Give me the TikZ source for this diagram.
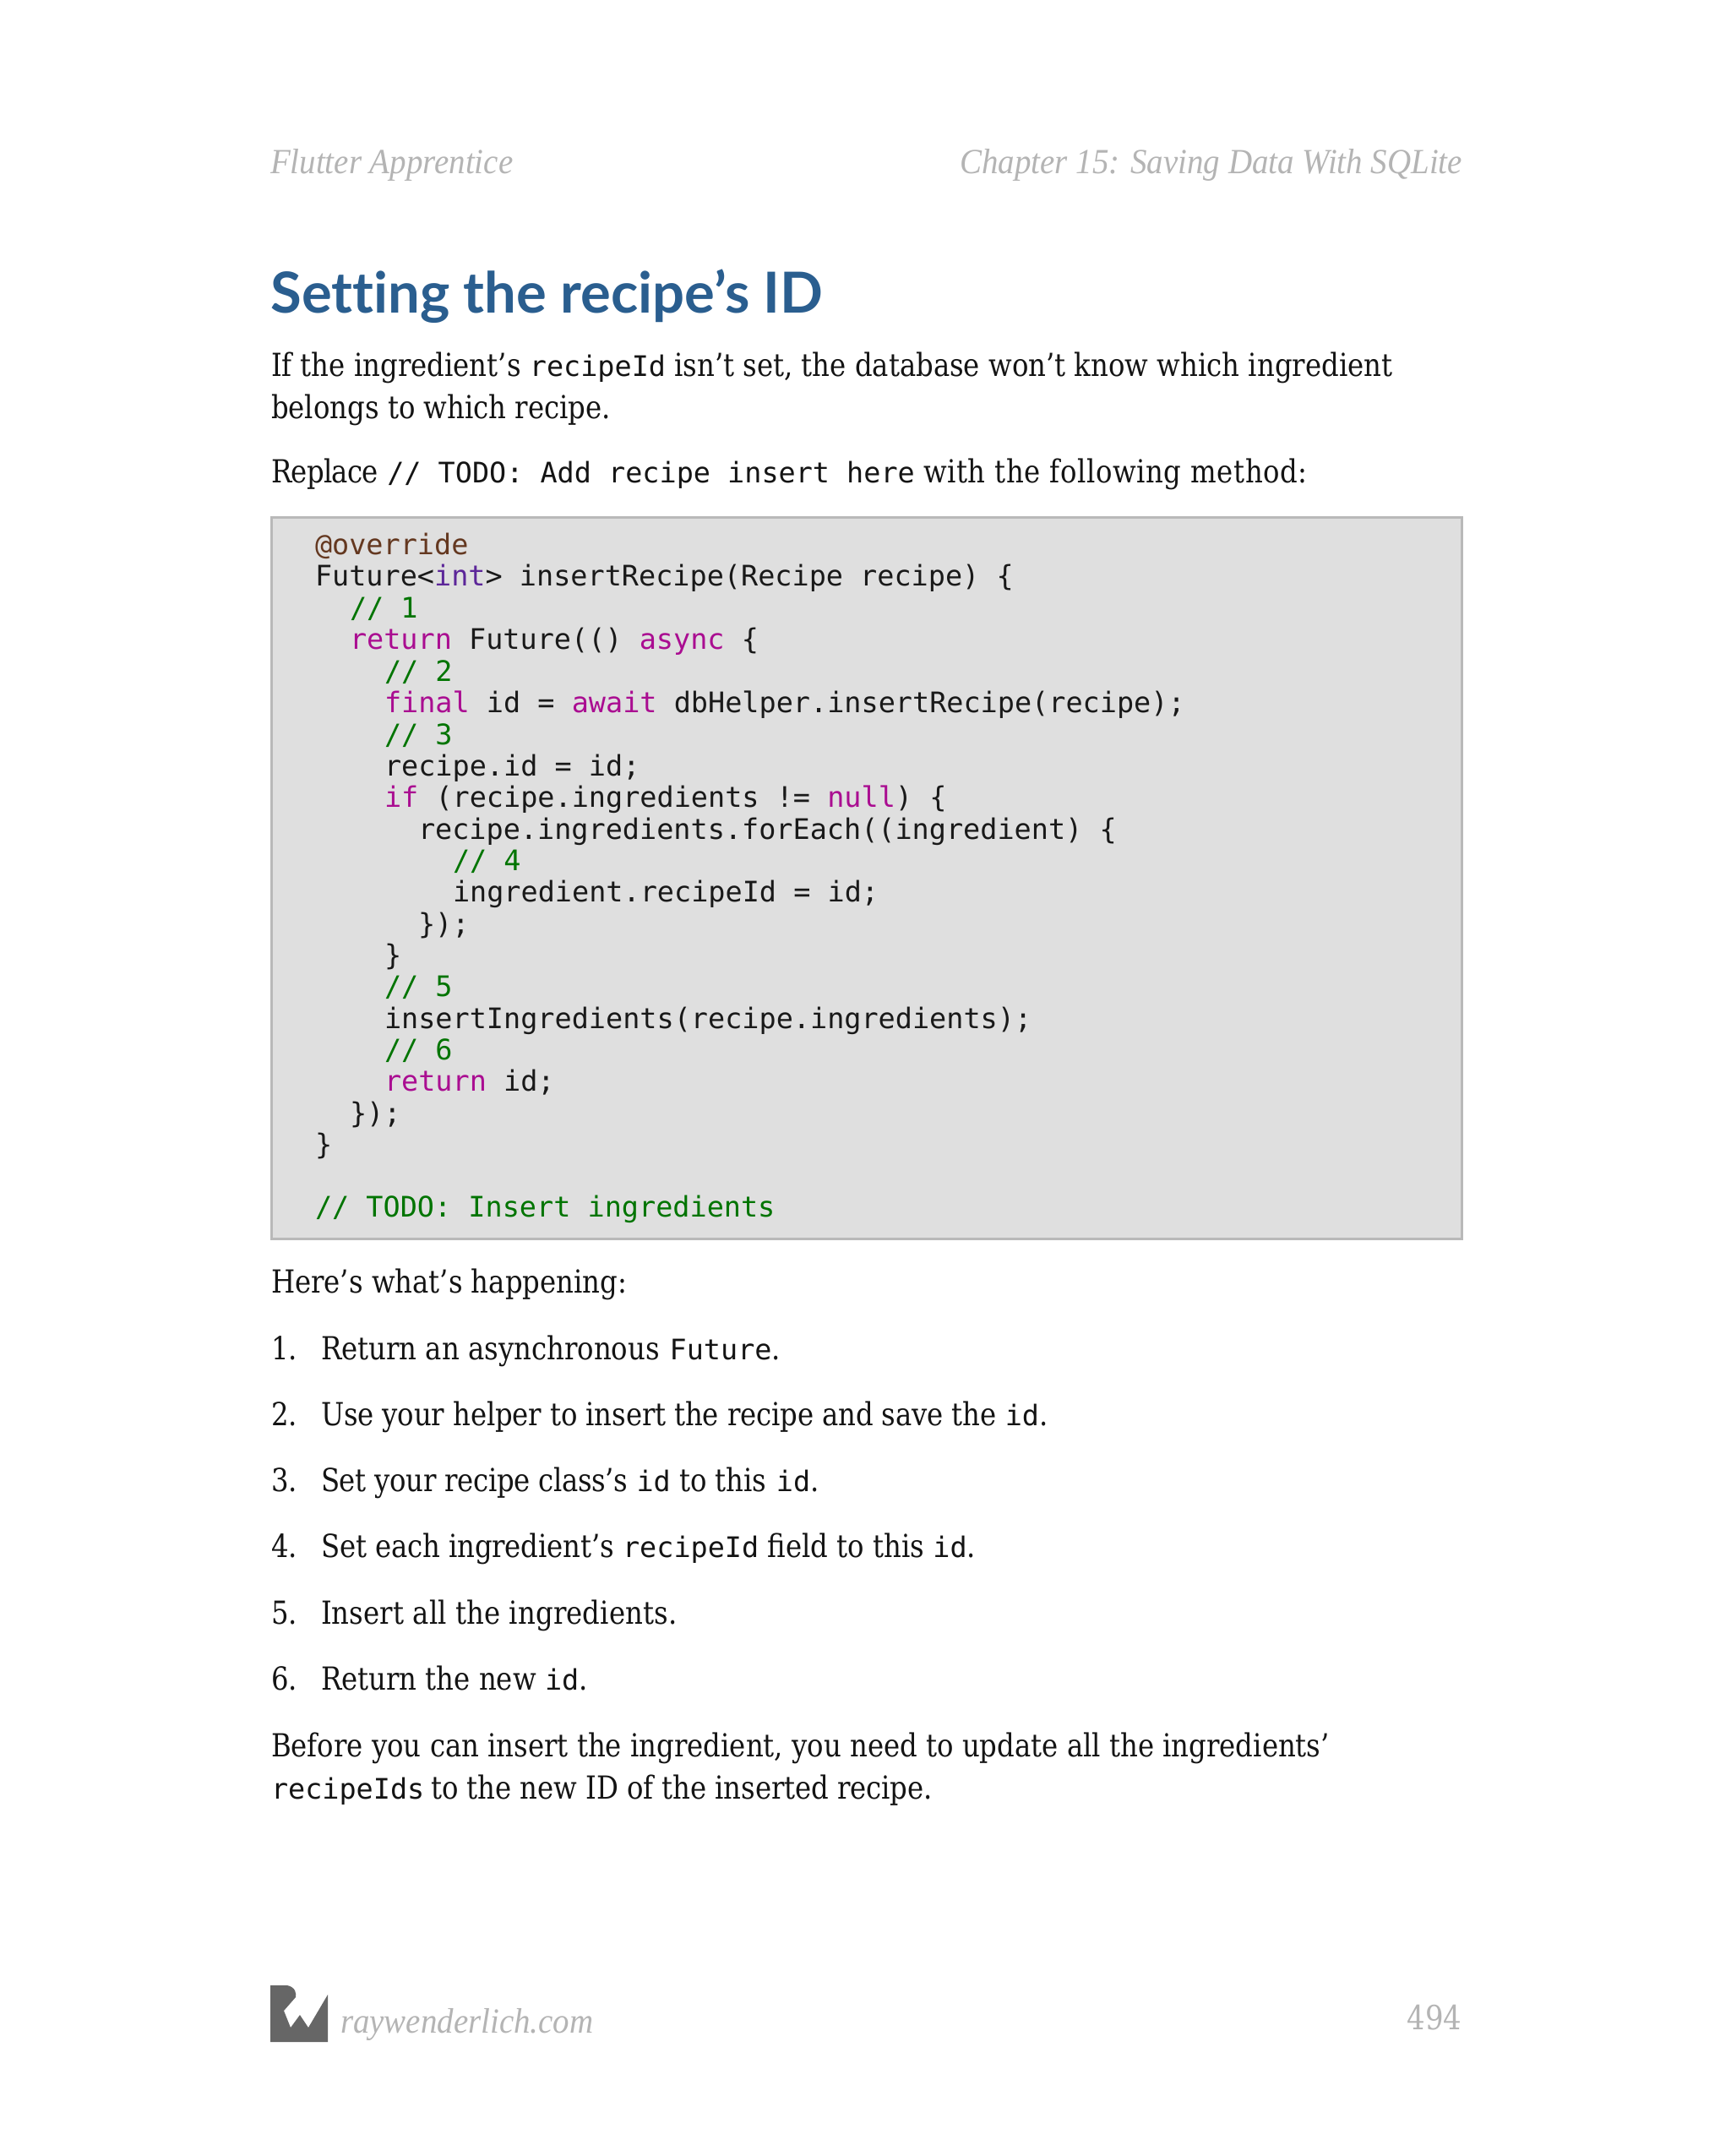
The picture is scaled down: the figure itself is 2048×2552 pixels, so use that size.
\documentclass[tikz,border=0pt]{standalone}
\usepackage{fontspec}
\setmainfont{DejaVu Serif}[FakeStretch=0.86]
\newfontfamily\titlefont{Lato}[Ligatures=NoCommon]
\newfontfamily\codefont{DejaVu Sans Mono}
\newfontfamily\headfont{Liberation Serif}[FakeStretch=0.93]
\definecolor{titleblue}{HTML}{2A5E8F}
\definecolor{headgray}{HTML}{B4B4B4}
\definecolor{boxfill}{HTML}{DFDFDF}
\definecolor{boxline}{HTML}{B9B9B9}
\definecolor{cgreen}{HTML}{007400}
\definecolor{ckey}{HTML}{AA0D91}
\definecolor{cint}{HTML}{5C2699}
\definecolor{cann}{HTML}{643820}
\definecolor{logogray}{HTML}{666666}
\newcommand{\mc}[1]{{\codefont\fontsize{12.55pt}{14pt}\selectfont #1}}
\newcommand{\kw}[1]{\textcolor{ckey}{#1}}
\newcommand{\cm}[1]{\textcolor{cgreen}{#1}}
\newcommand{\ls}[2]{{\addfontfeature{LetterSpace=#1}#2}}
\tikzset{
 x=0.375pt,y=-0.375pt,
 body/.style={anchor=base west,inner sep=0pt,outer sep=0pt,font=\fontsize{14.1pt}{18pt}\selectfont,text=black!92},
 code/.style={anchor=base west,inner sep=0pt,outer sep=0pt,font=\codefont\fontsize{12.56pt}{14pt}\selectfont,text=black!90},
 head/.style={inner sep=0pt,outer sep=0pt,font=\headfont\itshape\fontsize{15.7pt}{18pt}\selectfont,text=headgray},
}
\begin{document}
\begin{tikzpicture}
\useasboundingbox (0,0) rectangle (2048,2552);
\fill[white] (0,0) rectangle (2048,2552);
\node[head,anchor=base west] (hl) at (320,206) {Flutter Apprentice};
\node[head,anchor=base east] (hr) at (1731,206) {Chapter 15: Saving Data With SQLite};
\node[anchor=base west,inner sep=0pt,text=titleblue,font=\titlefont\bfseries\fontsize{25.1pt}{30pt}\selectfont] (title) at (320,371) {Setting the recipe’s ID};
\node[body] (p1) at (321,446) {If the ingredient’s \mc{recipeId} isn’t set, the database won’t know which ingredient};
\node[body] (p2) at (321,496) {belongs to which recipe.};
\node[body] (p3) at (321,572) {\ls{-1.8}{Replace} \mc{// TODO: Add recipe insert here} \ls{1.6}{with the following method:}};
\node[draw=boxline,fill=boxfill,line width=1pt,minimum width=1409*0.375pt,minimum height=854*0.375pt,anchor=north west,inner sep=0pt] (box) at (320,611) {};
\foreach \n/\yy/\xx/\t in {
 c0/657/373/{\textcolor{cann}{@override}},
 c1/694/373/{Future<\textcolor{cint}{int}> insertRecipe(Recipe recipe) \{},
 c2/731.7/414/{\cm{// 1}},
 c3/769/414/{\kw{return} Future(() \kw{async} \{},
 c4/806.3/455/{\cm{// 2}},
 c5/843.6/455/{\kw{final} id = \kw{await} dbHelper.insertRecipe(recipe);},
 c6/881/455/{\cm{// 3}},
 c7/918/455/{recipe.id = id;},
 c8/955.5/455/{\kw{if} (recipe.ingredients != \kw{null}) \{},
 c9/993/495/{recipe.ingredients.forEach((ingredient) \{},
 c10/1030/536/{\cm{// 4}},
 c11/1067.5/536/{ingredient.recipeId = id;},
 c12/1105/495/{\});},
 c13/1142/455/{\}},
 c14/1179.5/455/{\cm{// 5}},
 c15/1217/455/{insertIngredients(recipe.ingredients);},
 c16/1254/455/{\cm{// 6}},
 c17/1291.5/455/{\kw{return} id;},
 c18/1329/414/{\});},
 c19/1366/373/{\}},
 c20/1440.5/373/{\cm{// TODO: Insert ingredients}}}
 {\node[code] (\n) at (\xx,\yy) {\t};}
\node[body] (h) at (321,1530) {Here’s what’s happening:};
\foreach \n/\yy/\num/\t in {
 a/1609/1./{Return an asynchronous\hspace{0.6pt} \mc{Future}.},
 b/1687/2./{\ls{-0.43}{Use your helper to insert the recipe and save the} \mc{id}.},
 c/1765/3./{\ls{-0.92}{Set your recipe class’s} \mc{id} to this\hspace{0.4pt} \mc{id}.},
 d/1843/4./{\ls{-0.4}{Set each ingredient’s} \mc{recipeId} field to this \mc{id}.},
 e/1922/5./{\ls{0.3}{Insert all the ingredients.}},
 f/2000/6./{Return the new \mc{id}.}}
 {\node[body] (n\n) at (321,\yy) {\num};
  \node[body] (t\n) at (380,\yy) {\t};}
\node[body] (q1) at (321,2079) {Before you can insert the ingredient, you need to update all the ingredients’};
\node[body] (q2) at (321,2129) {\mc{recipeIds}\hspace{-0.8pt} \ls{-0.3}{to the new ID of the inserted recipe.}};
\fill[logogray] (320,2350) -- (340,2350) .. controls (350,2352) and (351,2360) .. (350,2364) -- (336,2380) -- (344,2400) -- (355,2385) -- (365,2400) -- (388,2361) -- (388,2417) -- (320,2417) -- cycle;
\node[head,anchor=base west] (foot) at (403,2406) {raywenderlich.com};
\node[anchor=base east,inner sep=0pt,text=headgray,font=\fontsize{14.8pt}{18pt}\selectfont] (pg) at (1731,2402) {494};
\end{tikzpicture}
\end{document}
